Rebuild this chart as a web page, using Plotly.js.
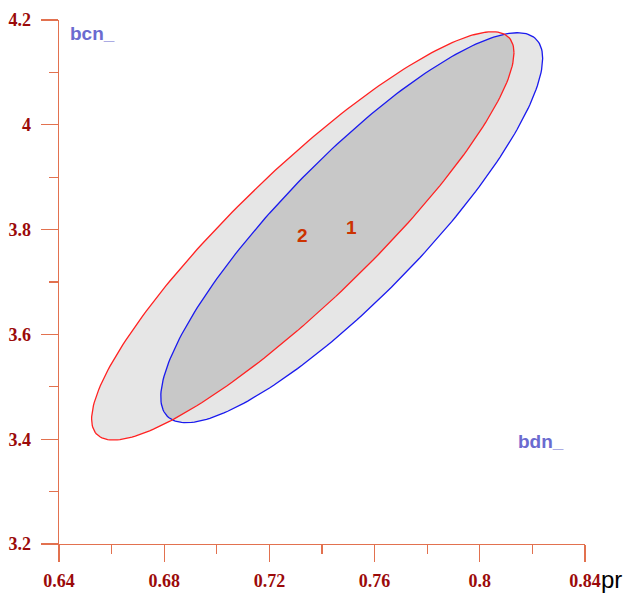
<!DOCTYPE html>
<html>
<head>
<meta charset="utf-8">
<script src="https://cdn.plot.ly/plotly-3.0.1.min.js"></script>
<style>html,body{margin:0;padding:0;background:#fff;}#chart{width:625px;height:593px;}</style>
</head>
<body>
<div id="chart"></div>
<script>
// Confidence ellipses
var ellipseNames = ["1", "2"];
var centerX = [0.7513, 0.7327];     // pr
var centerY = [3.8036, 3.788];      // bcn_ / bdn_
var halfWidthX = [0.0726, 0.0803];  // half extent along pr
var halfHeightY = [0.3721, 0.3895]; // half extent along y
var correlation = [0.868, 0.897];
var lineColors = ["#1a1aee", "#ff2222"];

var xTickVals = [0.64, 0.68, 0.72, 0.76, 0.80, 0.84];
var xTickText = ["0.64", "0.68", "0.72", "0.76", "0.8", "0.84"];
var yTickVals = [3.2, 3.4, 3.6, 3.8, 4.0, 4.2];
var yTickText = ["3.2", "3.4", "3.6", "3.8", "4", "4.2"];

function ellipse(i, n) {
  var phi = Math.acos(correlation[i]);
  var xs = [], ys = [];
  for (var k = 0; k <= n; k++) {
    var t = 2 * Math.PI * k / n;
    xs.push(centerX[i] + halfWidthX[i] * Math.cos(t));
    ys.push(centerY[i] + halfHeightY[i] * Math.cos(t - phi));
  }
  return {x: xs, y: ys};
}

// Sutherland-Hodgman clip of convex polygons (CCW)
function clip(subject, clipper) {
  var out = subject.slice();
  for (var i = 0; i < clipper.length - 1; i++) {
    var A = clipper[i], B = clipper[i + 1];
    var inp = out; out = [];
    if (!inp.length) break;
    var inside = function(p) { return (B[0]-A[0])*(p[1]-A[1]) - (B[1]-A[1])*(p[0]-A[0]) >= 0; };
    var inter = function(P, Q) {
      var x1=P[0],y1=P[1],x2=Q[0],y2=Q[1],x3=A[0],y3=A[1],x4=B[0],y4=B[1];
      var d=(x1-x2)*(y3-y4)-(y1-y2)*(x3-x4);
      var t=((x1-x3)*(y3-y4)-(y1-y3)*(x3-x4))/d;
      return [x1+t*(x2-x1), y1+t*(y2-y1)];
    };
    for (var j = 0; j < inp.length; j++) {
      var P = inp[j], Q = inp[(j + 1) % inp.length];
      var pin = inside(P), qin = inside(Q);
      if (pin) { out.push(P); if (!qin) out.push(inter(P, Q)); }
      else if (qin) { out.push(inter(P, Q)); }
    }
  }
  return out;
}

var N = 240;
var E = [ellipse(0, N), ellipse(1, N)];
var traces = [];
// light fills
for (var i = 0; i < 2; i++) {
  traces.push({x: E[i].x, y: E[i].y, mode: "lines", fill: "toself",
    fillcolor: "#e6e6e6", line: {width: 0, color: "rgba(0,0,0,0)"}, hoverinfo: "skip", showlegend: false});
}
// overlap
var p0 = E[0].x.map(function(v, k){ return [v, E[0].y[k]]; });
var p1 = E[1].x.map(function(v, k){ return [v, E[1].y[k]]; });
var ov = clip(p0.slice(0, N), p1);
ov.push(ov[0]);
traces.push({x: ov.map(function(p){return p[0];}), y: ov.map(function(p){return p[1];}),
  mode: "lines", fill: "toself", fillcolor: "#c8c8c8", line: {width: 0, color: "rgba(0,0,0,0)"},
  hoverinfo: "skip", showlegend: false});
// outlines
for (var i = 0; i < 2; i++) {
  traces.push({x: E[i].x, y: E[i].y, mode: "lines", line: {color: lineColors[i], width: 1.3},
    hoverinfo: "skip", showlegend: false});
}

var axisColor = "#e2714f";
var tickFont = {family: "Liberation Serif, Times New Roman, serif", size: 18, color: "#9b0a0a", weight: "bold"};

var annotations = [];
for (var i = 0; i < 2; i++) {
  annotations.push({x: centerX[i], y: centerY[i], xref: "x", yref: "y", text: "<b>" + ellipseNames[i] + "</b>",
    xanchor: "center", yanchor: "middle", showarrow: false,
    font: {family: "Liberation Sans, Arial, sans-serif", size: 19, color: "#cc3300"}});
}
annotations.push({x: 92, y: 34, xref: "paper", yref: "paper", text: "<b>bcn_</b>", showarrow: false,
  font: {family: "Liberation Sans, Arial, sans-serif", size: 19, color: "#6b6bd0"}});
annotations.push({x: 541, y: 441, xref: "paper", yref: "paper", text: "<b>bdn_</b>", showarrow: false,
  font: {family: "Liberation Sans, Arial, sans-serif", size: 19, color: "#6b6bd0"}});
annotations.push({x: 611, y: 579, xref: "paper", yref: "paper", text: "pr", showarrow: false,
  font: {family: "Liberation Sans, Arial, sans-serif", size: 24, color: "#000000"}});

// convert pixel positions for paper annotations
var L = 59, R = 40, T = 20, B = 49, W = 625, H = 593;
annotations.forEach(function(a){
  if (a.xref === "paper") {
    a.x = (a.x - L) / (W - L - R);
    a.y = (H - B - a.y) / (H - T - B);
    a.xanchor = "center"; a.yanchor = "middle";
  }
});

var layout = {
  width: W, height: H,
  margin: {l: L, r: R, t: T, b: B, pad: 0},
  paper_bgcolor: "#ffffff", plot_bgcolor: "#ffffff",
  showlegend: false,
  xaxis: {range: [0.64, 0.84], tickmode: "array", tickvals: xTickVals, ticktext: xTickText,
    showgrid: false, zeroline: false, showline: true, linecolor: axisColor, linewidth: 1.3,
    ticks: "outside", ticklen: 17, tickcolor: axisColor, tickwidth: 1.3, tickfont: tickFont,
    ticklabelstandoff: 3,
    minor: {dtick: 0.02, tick0: 0.64, ticks: "outside", ticklen: 9, tickcolor: axisColor, tickwidth: 1.1, showgrid: false}},
  yaxis: {range: [3.2, 4.2], tickmode: "array", tickvals: yTickVals, ticktext: yTickText,
    showgrid: false, zeroline: false, showline: true, linecolor: axisColor, linewidth: 1.3,
    ticks: "outside", ticklen: 17, tickcolor: axisColor, tickwidth: 1.3, tickfont: tickFont,
    ticklabelstandoff: 6,
    minor: {dtick: 0.1, tick0: 3.2, ticks: "outside", ticklen: 9, tickcolor: axisColor, tickwidth: 1.1, showgrid: false}},
  annotations: annotations
};

Plotly.newPlot("chart", traces, layout, {staticPlot: true, displayModeBar: false});
</script>
</body>
</html>
